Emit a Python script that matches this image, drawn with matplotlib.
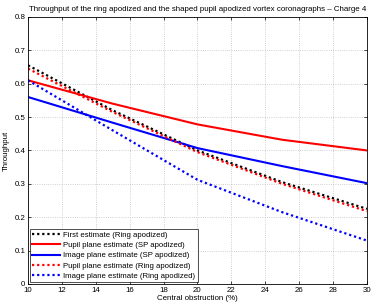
import matplotlib
matplotlib.use("Agg")
import matplotlib.pyplot as plt

x = [10, 15, 20, 25, 30]
first_ring = [0.655, 0.52, 0.40, 0.305, 0.225]
pupil_sp = [0.61, 0.54, 0.478, 0.432, 0.40]
image_sp = [0.56, 0.483, 0.407, 0.353, 0.302]
pupil_ring = [0.645, 0.515, 0.395, 0.30, 0.218]
image_ring = [0.61, 0.46, 0.312, 0.215, 0.13]

labels = ["First estimate (Ring apodized)",
          "Pupil plane estimate (SP apodized)",
          "Image plane estimate (SP apodized)",
          "Pupil plane estimate (Ring apodized)",
          "Image plane estimate (Ring apodized)"]

xticks = [10, 12, 14, 16, 18, 20, 22, 24, 26, 28, 30]
yticks = [0, 0.1, 0.2, 0.3, 0.4, 0.5, 0.6, 0.7, 0.8]

plt.rcParams['font.family'] = ['Liberation Sans', 'DejaVu Sans']

fig = plt.figure(figsize=(3.74, 3.07), dpi=100)
ax = fig.add_axes([0.075, 0.075, 0.906, 0.870])

dot = (0, (1, 1.3))
ax.plot(x, first_ring, color='black', lw=1.6, linestyle=dot, label=labels[0])
ax.plot(x, pupil_sp, color='#ff0000', lw=1.5, linestyle='-', label=labels[1])
ax.plot(x, image_sp, color='#0000ff', lw=1.5, linestyle='-', label=labels[2])
ax.plot(x, pupil_ring, color='#ff0000', lw=1.6, linestyle=dot, label=labels[3])
ax.plot(x, image_ring, color='#0000ff', lw=1.6, linestyle=dot, label=labels[4])

ax.set_xlim(10, 30)
ax.set_ylim(0, 0.8)
ax.set_xticks(xticks)
ax.set_yticks(yticks)
ax.set_yticklabels(['0', '0.1', '0.2', '0.3', '0.4', '0.5', '0.6', '0.7', '0.8'])
ax.tick_params(direction='in', top=True, right=True, labelsize=5.7, length=2.5, width=0.5, pad=2)
ax.grid(True, linestyle=':', color='#c0c0c0', linewidth=0.6)
for s in ax.spines.values():
    s.set_linewidth(0.6)

ax.set_xlabel('Central obstruction (%)', fontsize=5.7, labelpad=1)
ax.set_ylabel('Throughput', fontsize=5.7, labelpad=3)
ax.set_title('Throughput of the ring apodized and the shaped pupil apodized vortex coronagraphs \u2013 Charge 4',
             fontsize=5.65, pad=4)

leg = ax.legend(loc='lower left', fontsize=5.6, frameon=True, fancybox=False,
                edgecolor='black', borderpad=0.3, labelspacing=0.35,
                handlelength=3.5, handletextpad=0.5, borderaxespad=0.25)
leg.get_frame().set_linewidth(0.6)

fig.savefig('out.png', dpi=100)
